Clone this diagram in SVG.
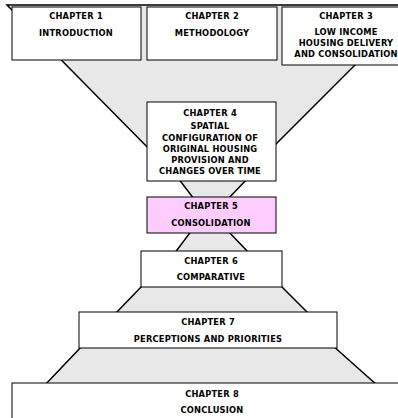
<svg xmlns="http://www.w3.org/2000/svg" width="398" height="418" viewBox="0 0 398 418">
<style>
.fun{fill:#e8e8e8;stroke:#000;stroke-width:1.5;stroke-linejoin:miter}
.box{fill:#fff;stroke:#000;stroke-width:1}
.pink{fill:#ffccff}
text{font-family:"DejaVu Sans",Verdana,sans-serif;font-weight:bold;font-size:8.3px;text-anchor:middle;fill:#000;letter-spacing:0.2px}
</style>
<rect width="398" height="418" fill="#fff"/>
<g id="connectors">
<polygon class="fun" points="7,5 415,5 262,158 160,160"/>
<polygon class="fun" points="178,178 248,178 228,199 194,199"/>
<polygon class="fun" points="192,230 227,230 250,254 174,254"/>
<polygon class="fun" points="143,285 280,285 310,315 114,315"/>
<polygon class="fun" points="83,345 332,345 378,386 44,386"/>
</g>
<g id="ch1"><rect class="box" x="12" y="7" width="129" height="53"/><text x="76" y="19">CHAPTER 1</text><text x="76" y="36">INTRODUCTION</text></g>
<g id="ch2"><rect class="box" x="147" y="7" width="130" height="53"/><text x="212" y="19">CHAPTER 2</text><text x="212" y="36">METHODOLOGY</text></g>
<g id="ch3"><rect class="box" x="282" y="7" width="128" height="58"/><text x="346" y="19">CHAPTER 3</text><text x="346" y="35">LOW INCOME</text><text x="346" y="46">HOUSING DELIVERY</text><text x="346" y="57">AND CONSOLIDATION</text></g>
<g id="ch4"><rect class="box" x="147" y="102" width="129" height="79"/><text x="210" y="116">CHAPTER 4</text><text x="210" y="129">SPATIAL</text><text x="210" y="141">CONFIGURATION OF</text><text x="210" y="152">ORIGINAL HOUSING</text><text x="210" y="163">PROVISION AND</text><text x="210" y="174">CHANGES OVER TIME</text></g>
<g id="ch5"><rect class="box pink" x="147" y="197" width="129" height="36"/><text x="211" y="209">CHAPTER 5</text><text x="211" y="226">CONSOLIDATION</text></g>
<g id="ch6"><rect class="box" x="141" y="251" width="141" height="36"/><text x="211" y="264">CHAPTER 6</text><text x="211" y="280">COMPARATIVE</text></g>
<g id="ch7"><rect class="box" x="79" y="312" width="258" height="36"/><text x="208" y="325">CHAPTER 7</text><text x="208" y="342">PERCEPTIONS AND PRIORITIES</text></g>
<g id="ch8"><rect class="box" x="12" y="383" width="398" height="47"/><text x="212" y="397">CHAPTER 8</text><text x="212" y="413">CONCLUSION</text></g>
</svg>
